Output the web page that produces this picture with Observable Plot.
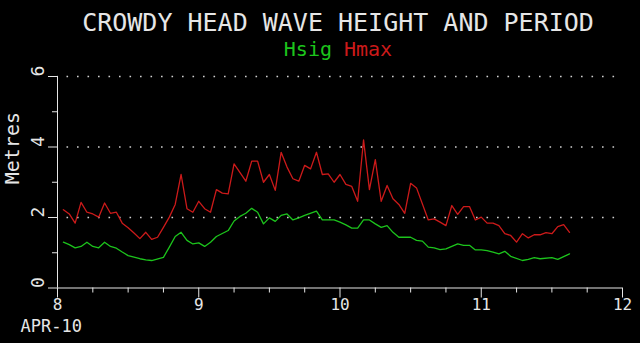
<!DOCTYPE html>
<html>
<head>
<meta charset="utf-8">
<script src="https://cdn.jsdelivr.net/npm/d3@7"></script>
<script src="https://cdn.jsdelivr.net/npm/@observablehq/plot@0.6"></script>
<style>
  html, body { margin: 0; padding: 0; background: #000; }
  #chart { width: 640px; height: 343px; }
</style>
</head>
<body>
<div id="chart"></div>
<script>
// Hours after 00:00 on 8 April 2010, and values in metres
const hmaxHours  = [1,2,3,4,5,6,7,8,9,10,11,12,13,14,15,16,17,18,19,20,21,22,23,24,25,26,27,28,29,30,32,33,34,35,36,37,38,39,40,41,42,43,44,45,46,47,48,49,50,51,52,53,54,55,56,57,58,59,60,61,63,64,65,66,67,68,69,70,71,72,73,74,75,76,77,78,79,80,81,82,83,84,85,86,87];
const hmaxValues = [2.22,2.10,1.84,2.43,2.15,2.10,2.01,2.41,2.12,2.15,1.84,1.71,1.56,1.40,1.58,1.38,1.44,1.72,2.01,2.37,3.22,2.25,2.15,2.46,2.25,2.15,2.79,2.69,2.67,3.52,3.03,3.60,3.60,3.00,3.22,2.77,3.85,3.43,3.10,3.03,3.48,3.38,3.85,3.22,3.24,3.00,3.22,2.94,2.88,2.46,4.20,2.79,3.64,2.46,2.91,2.53,2.37,2.12,2.97,2.84,1.93,1.96,1.87,1.77,2.34,2.09,2.31,2.31,1.93,2.01,1.84,1.84,1.77,1.54,1.49,1.30,1.54,1.42,1.51,1.51,1.57,1.54,1.74,1.80,1.58];

const hsigHours  = [1,2,3,4,5,6,7,8,9,10,11,12,14,15,16,18,19,20,21,22,23,24,25,26,27,29,30,31,32,33,34,35,36,37,38,39,40,41,42,44,45,47,48,49,50,51,52,53,54,55,56,57,58,59,60,61,62,63,64,65,66,67,68,69,70,71,72,73,74,75,76,77,79,80,81,82,84,85,86,87];
const hsigValues = [1.30,1.23,1.14,1.18,1.30,1.18,1.14,1.30,1.18,1.13,1.02,0.92,0.83,0.80,0.78,0.87,1.16,1.46,1.58,1.35,1.25,1.28,1.18,1.30,1.46,1.63,1.90,2.03,2.12,2.26,2.15,1.82,1.99,1.89,2.06,2.10,1.93,1.99,2.06,2.18,1.93,1.93,1.87,1.79,1.70,1.70,1.93,1.93,1.82,1.72,1.77,1.58,1.44,1.44,1.44,1.35,1.33,1.16,1.14,1.09,1.11,1.18,1.25,1.21,1.21,1.08,1.08,1.06,1.02,0.97,1.04,0.90,0.78,0.81,0.86,0.83,0.86,0.81,0.89,0.97];

const dayTicks = [8, 9, 10, 11, 12];
const yMajorTicks = [0, 2, 4, 6];
const yMinorTicks = [1, 3, 5];
const gridValues = [2, 4, 6];
const titleText = "CROWDY HEAD WAVE HEIGHT AND PERIOD";
const seriesNames = ["Hsig", "Hmax"];
const monthLabel = "APR-10";
const yLabel = "Metres";

const startDay = 8;
const hmax = hmaxHours.map((h, i) => ({day: startDay + h / 24, value: hmaxValues[i]}));
const hsig = hsigHours.map((h, i) => ({day: startDay + h / 24, value: hsigValues[i]}));
const minorDayTicks = d3.range(8, 12.001, 0.25).filter(d => !Number.isInteger(d));

const RED = "#cc1a1a";
const GREEN = "#1cc41c";
const AXIS = "#e6e6e6";
const FONT = "DejaVu Sans Mono, monospace";

const plot = Plot.plot({
  width: 640,
  height: 343,
  marginLeft: 57,
  marginRight: 18,
  marginTop: 76,
  marginBottom: 55.5,
  style: {background: "#000", color: AXIS, fontFamily: FONT, overflow: "visible"},
  x: {domain: [8, 12], axis: null},
  y: {domain: [0, 6], axis: null},
  marks: [
    Plot.gridY(gridValues, {stroke: "#d0d0d0", strokeOpacity: 1, strokeWidth: 1.6, strokeDasharray: "1.6,8.9", strokeDashoffset: 1}),
    Plot.axisY(yMajorTicks, {tickSize: 9, text: null, label: null, stroke: AXIS}),
    Plot.axisY(yMinorTicks, {tickSize: 5, text: null, label: null, stroke: AXIS}),
    Plot.axisX(dayTicks, {tickSize: 10, text: null, label: null, stroke: AXIS}),
    Plot.axisX(minorDayTicks, {tickSize: 5, text: null, label: null, stroke: AXIS}),
    Plot.ruleX([8], {stroke: AXIS}),
    Plot.ruleY([0], {stroke: AXIS}),
    Plot.line(hsig, {x: "day", y: "value", stroke: GREEN, strokeWidth: 1.3}),
    Plot.line(hmax, {x: "day", y: "value", stroke: RED, strokeWidth: 1.3}),
    Plot.text(dayTicks, {x: d => d, frameAnchor: "bottom", dy: 22, text: d => String(d), fill: AXIS, fontSize: 16}),
    Plot.text(yMajorTicks, {y: d => d, frameAnchor: "left", dx: -19, rotate: -90, text: d => String(d), fill: AXIS, fontSize: 18}),
    Plot.text([yLabel], {frameAnchor: "left", dx: -45, dy: 2, rotate: -90, fill: AXIS, fontSize: 20}),
    Plot.text([monthLabel], {frameAnchor: "bottom-left", textAnchor: "start", dx: -37, dy: 43.5, fill: AXIS, fontSize: 17}),
    Plot.text([titleText], {frameAnchor: "top", dy: -63, dx: -2, fill: AXIS, fontSize: 25}),
    Plot.text([seriesNames[0]], {frameAnchor: "top", textAnchor: "end", dx: -8, dy: -35, fill: GREEN, fontSize: 20}),
    Plot.text([seriesNames[1]], {frameAnchor: "top", textAnchor: "start", dx: 4, dy: -35, fill: RED, fontSize: 20})
  ]
});
document.getElementById("chart").appendChild(plot);
</script>
</body>
</html>
